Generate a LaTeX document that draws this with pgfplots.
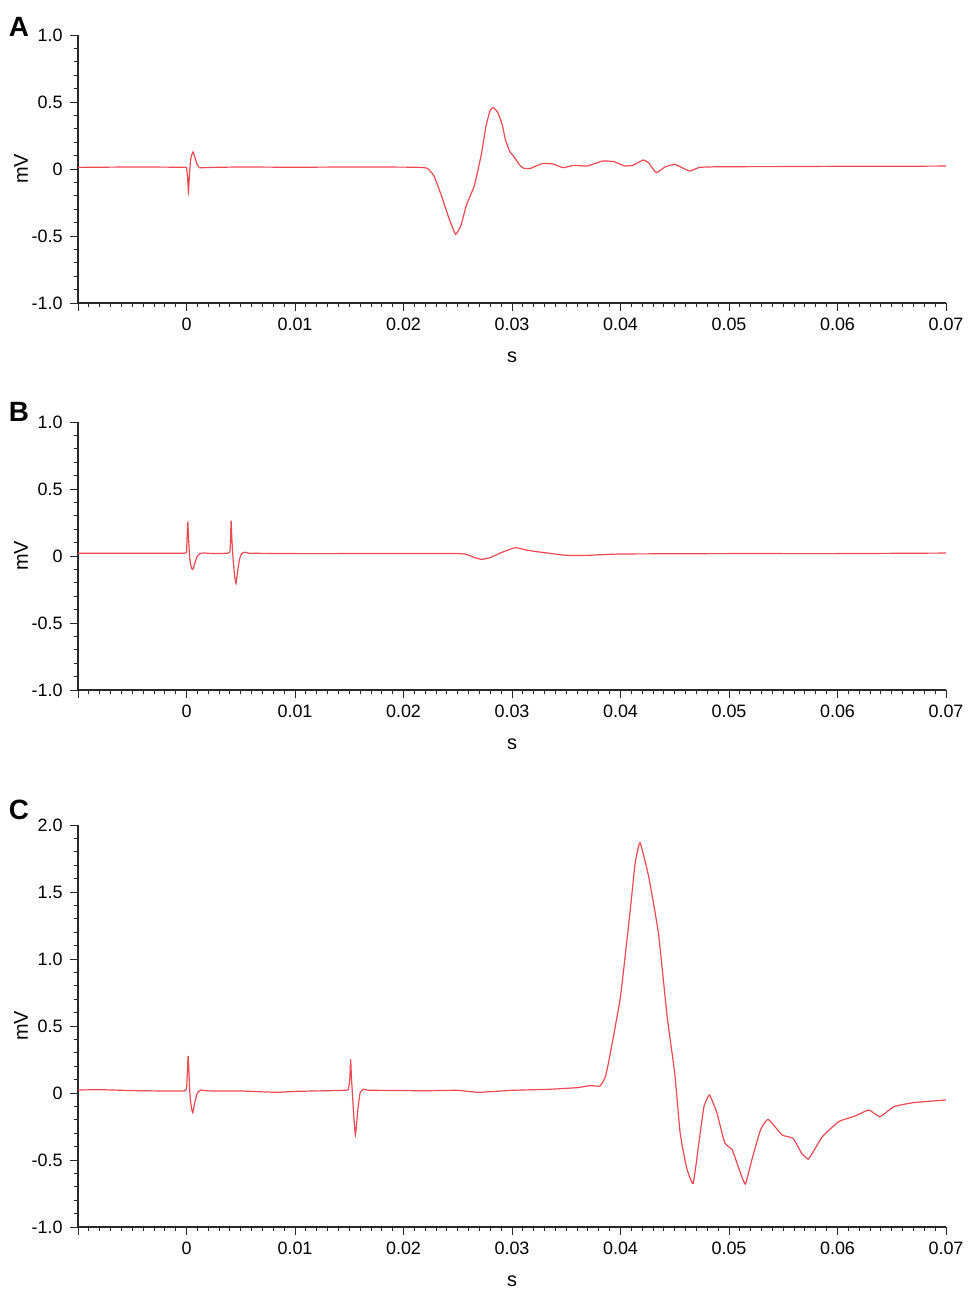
\documentclass[border=0pt]{standalone}
\usepackage{fontspec}
\setmainfont{Liberation Sans}
\usepackage{pgfplots}
\pgfplotsset{compat=1.18}
\definecolor{trace}{RGB}{238,72,80}
\definecolor{axcol}{RGB}{40,40,40}
\pgfplotsset{
  ecg/.style={
    scale only axis, width=434bp,
    xmin=-0.01, xmax=0.07,
    axis x line=bottom, axis y line=left,
    axis line style={-, axcol, line width=0.55pt},
    every tick/.style={axcol, line width=0.45pt},
    tick align=outside,
    major tick length=4.2bp, minor tick length=2.2bp,
    xtick={-0.01,0,0.01,0.02,0.03,0.04,0.05,0.06,0.07},
    xticklabels={,0,0.01,0.02,0.03,0.04,0.05,0.06,0.07},
    minor xtick={-0.009,-0.008,-0.007,-0.006,-0.005,-0.004,-0.003,-0.002,-0.001,
      0.001,0.002,0.003,0.004,0.005,0.006,0.007,0.008,0.009,
      0.011,0.012,0.013,0.014,0.015,0.016,0.017,0.018,0.019,
      0.021,0.022,0.023,0.024,0.025,0.026,0.027,0.028,0.029,
      0.031,0.032,0.033,0.034,0.035,0.036,0.037,0.038,0.039,
      0.041,0.042,0.043,0.044,0.045,0.046,0.047,0.048,0.049,
      0.051,0.052,0.053,0.054,0.055,0.056,0.057,0.058,0.059,
      0.061,0.062,0.063,0.064,0.065,0.066,0.067,0.068,0.069},
    minor y tick num=4,
    scaled ticks=false,
    tick label style={font=\fontsize{9}{10}\selectfont, text=black},
    label style={font=\fontsize{9.5}{10}\selectfont},
    every axis y label/.style={at={(axis description cs:-0.0657,0.5)}, rotate=90, anchor=center},
    every axis x label/.style={at={(axis description cs:0.5,0)}, anchor=center, yshift=-27bp},
    xlabel={s}, ylabel={mV},
  },
  tr/.style={trace, line width=0.6pt, no markers, smooth, tension=0.25},
}
\begin{document}
\begin{tikzpicture}
\useasboundingbox (0,0) rectangle (488bp,-650bp);
% Panel A
\begin{axis}[ecg, at={(39bp,-17.5bp)}, anchor=north west, height=134bp,
  ymin=-1, ymax=1, ytick={-1,-0.5,0,0.5,1}, yticklabels={-1.0,-0.5,0,0.5,1.0}]
\addplot[tr] coordinates {(-0.01,0.012) (-0.005,0.015) (-0.002,0.014) (-0.0006,0.013) (-0.0002,0.012) (0.0,0.01) (0.0001,-0.06) (0.00018,-0.17) (0.00028,-0.03) (0.0004,0.08) (0.0006,0.127) (0.0008,0.08) (0.001,0.03) (0.0012,0.01) (0.0016,0.01) (0.0025,0.012) (0.005,0.015) (0.01,0.013) (0.015,0.015) (0.02,0.014) (0.0215,0.012) (0.0222,0.005) (0.0228,-0.05) (0.0235,-0.2) (0.0242,-0.37) (0.0248,-0.487) (0.0253,-0.42) (0.0258,-0.27) (0.0265,-0.132) (0.0268,-0.03) (0.0272,0.12) (0.0276,0.32) (0.028,0.44) (0.0283,0.457) (0.0287,0.42) (0.0291,0.33) (0.0294,0.216) (0.0298,0.13) (0.0302,0.09) (0.0307,0.03) (0.0311,0.005) (0.0317,0.005) (0.0323,0.025) (0.0329,0.042) (0.0338,0.037) (0.0347,0.01) (0.0357,0.027) (0.0369,0.022) (0.0378,0.045) (0.0384,0.06) (0.0394,0.055) (0.0404,0.022) (0.0412,0.03) (0.0421,0.067) (0.0426,0.045) (0.0433,-0.027) (0.0441,0.015) (0.045,0.035) (0.0458,0.005) (0.0464,-0.015) (0.0473,0.012) (0.0492,0.017) (0.055,0.018) (0.06,0.02) (0.065,0.02) (0.07,0.022)};
\end{axis}
% Panel B
\begin{axis}[ecg, at={(39bp,-211bp)}, anchor=north west, height=134bp,
  ymin=-1, ymax=1, ytick={-1,-0.5,0,0.5,1}, yticklabels={-1.0,-0.5,0,0.5,1.0}]
\addplot[tr] coordinates {(-0.01,0.02) (-0.005,0.02) (-0.002,0.02) (-0.0006,0.02) (-0.0002,0.021) (0.0,0.03) (0.00006,0.15) (0.00012,0.256) (0.0002,0.12) (0.0003,-0.02) (0.00045,-0.085) (0.00058,-0.1) (0.0008,-0.045) (0.001,0.0) (0.0013,0.02) (0.0017,0.022) (0.0025,0.018) (0.0035,0.02) (0.0039,0.022) (0.00402,0.04) (0.00407,0.15) (0.00411,0.263) (0.00418,0.13) (0.0043,-0.03) (0.00445,-0.16) (0.00457,-0.204) (0.0047,-0.12) (0.0049,-0.02) (0.0051,0.02) (0.0054,0.028) (0.0058,0.02) (0.0065,0.02) (0.01,0.018) (0.015,0.018) (0.02,0.018) (0.025,0.018) (0.0258,0.012) (0.0265,-0.01) (0.0272,-0.025) (0.028,-0.012) (0.029,0.025) (0.0303,0.062) (0.0313,0.045) (0.0323,0.032) (0.0335,0.02) (0.035,0.005) (0.037,0.005) (0.04,0.015) (0.05,0.018) (0.06,0.018) (0.07,0.022)};
\end{axis}
% Panel C
\begin{axis}[ecg, at={(39bp,-412.5bp)}, anchor=north west, height=201bp,
  ymin=-1, ymax=2, ytick={-1,-0.5,0,0.5,1,1.5,2}, yticklabels={-1.0,-0.5,0,0.5,1.0,1.5,2.0}]
\addplot[tr] coordinates {(-0.01,0.022) (-0.008,0.025) (-0.005,0.018) (-0.002,0.015) (-0.0006,0.015) (-0.0002,0.015) (0.0,0.03) (0.00008,0.15) (0.00015,0.276) (0.00023,0.15) (0.00033,-0.03) (0.00048,-0.12) (0.00058,-0.147) (0.0008,-0.06) (0.001,0.0) (0.0013,0.022) (0.0018,0.017) (0.0025,0.015) (0.005,0.015) (0.0083,0.005) (0.01,0.012) (0.0135,0.018) (0.0145,0.02) (0.0149,0.025) (0.01505,0.1) (0.01513,0.25) (0.0152,0.12) (0.0154,-0.15) (0.01557,-0.313) (0.0158,-0.12) (0.016,0.0) (0.0163,0.028) (0.0168,0.02) (0.0175,0.02) (0.0219,0.017) (0.025,0.02) (0.0269,0.005) (0.03,0.02) (0.0335,0.028) (0.036,0.04) (0.0372,0.055) (0.0381,0.052) (0.0386,0.12) (0.039,0.27) (0.04,0.72) (0.0409,1.366) (0.04135,1.714) (0.0418,1.868) (0.0426,1.614) (0.0435,1.19) (0.0443,0.57) (0.045,0.147) (0.0455,-0.3) (0.0461,-0.56) (0.0467,-0.674) (0.0473,-0.326) (0.0477,-0.1) (0.0482,-0.015) (0.0489,-0.152) (0.0496,-0.371) (0.0503,-0.425) (0.0509,-0.56) (0.0515,-0.679) (0.0521,-0.5) (0.0529,-0.276) (0.0536,-0.196) (0.0549,-0.313) (0.0559,-0.338) (0.0567,-0.45) (0.0573,-0.493) (0.0579,-0.42) (0.0586,-0.326) (0.0601,-0.214) (0.0616,-0.172) (0.0629,-0.127) (0.0639,-0.177) (0.0652,-0.102) (0.067,-0.072) (0.07,-0.052)};
\end{axis}
\node[font=\fontsize{14}{16}\selectfont\bfseries] at (9.5bp,-13.5bp) {A};
\node[font=\fontsize{14}{16}\selectfont\bfseries] at (9.5bp,-206bp) {B};
\node[font=\fontsize{14}{16}\selectfont\bfseries] at (9.5bp,-405bp) {C};
\end{tikzpicture}
\end{document}
